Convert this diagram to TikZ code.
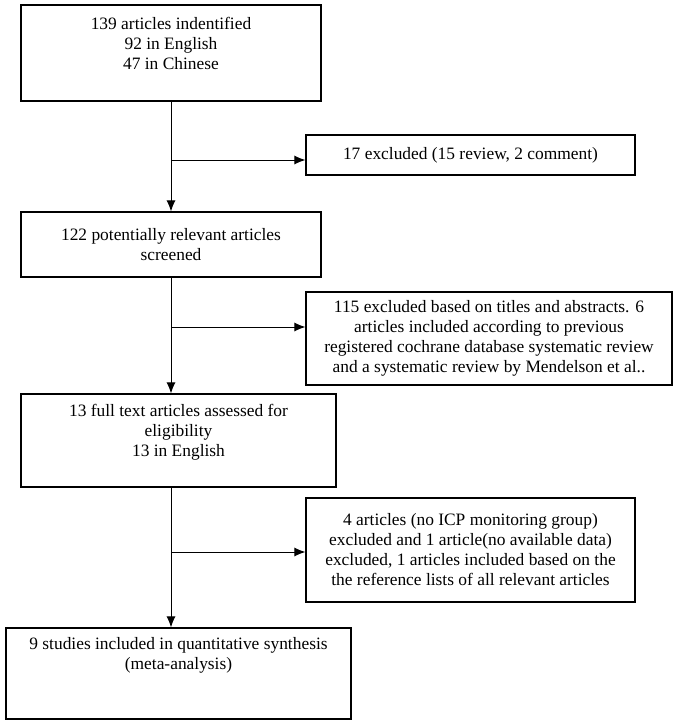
\documentclass[tikz,border=0pt]{standalone}
\usepackage{fontspec}
\setmainfont{Liberation Serif}
\usetikzlibrary{arrows.meta}
\tikzset{
  flowbox/.style={draw, line width=1.1pt, rectangle, inner sep=0pt, align=center,
    font=\fontsize{17.4}{20}\selectfont},
  flowarr/.style={line width=1pt, -{Latex[length=11pt,width=9pt]}}
}
\begin{document}
\begin{tikzpicture}[x=1pt,y=-1pt]
\useasboundingbox (0,0) rectangle (683,725);
\node[flowbox, minimum width=300, minimum height=96] (ident) at (171,53){139 articles indentified\\92 in English\\47 in Chinese\\ \mbox{}};
\node[flowbox, minimum width=329, minimum height=40] (excl1) at (470.5,155){17 excluded (15 review, 2 comment)};
\node[flowbox, minimum width=300, minimum height=65] (screen) at (171,244.5){122 potentially relevant articles\\screened};
\node[flowbox, minimum width=366, minimum height=93] (excl2) at (489,338.5){115 excluded based on titles and abstracts. 6\\articles included according to previous\\registered cochrane database systematic review\\and a systematic review by Mendelson et al..};
\node[flowbox, minimum width=315, minimum height=93] (full) at (178.5,440.5){13 full text articles assessed for\\eligibility\\13 in English\\ \mbox{}};
\node[flowbox, minimum width=329, minimum height=104] (excl3) at (470.5,550){4 articles (no ICP monitoring group)\\excluded and 1 article(no available data)\\excluded, 1 articles included based on the\\the reference lists of all relevant articles};
\node[flowbox, minimum width=345, minimum height=91] (incl) at (178.5,673.5){9 studies included in quantitative synthesis\\(meta-analysis)\\ \mbox{}\\ \mbox{}};
\coordinate (br1) at (171,160);
\coordinate (br2) at (171,327);
\coordinate (br3) at (171,552);
\draw[flowarr](ident) -- (screen);
\draw[flowarr](br1) -- (br1 -| excl1.west);
\draw[flowarr](screen) -- (screen.south |- full.north);
\draw[flowarr](br2) -- (br2 -| excl2.west);
\draw[flowarr](screen.south |- full.south) -- (screen.south |- incl.north);
\draw[flowarr](br3) -- (br3 -| excl3.west);
\end{tikzpicture}
\end{document}
